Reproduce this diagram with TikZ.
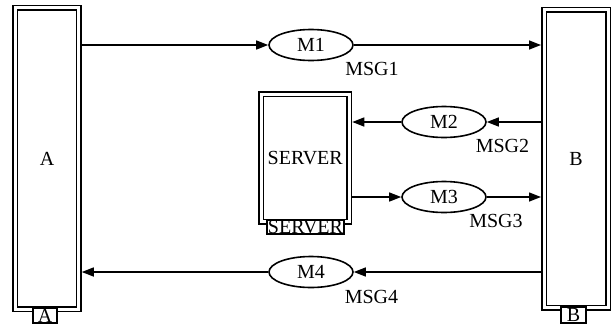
\documentclass[tikz,border=0pt]{standalone}
\usepackage{fontspec}
\setmainfont{Liberation Serif}
\usetikzlibrary{shapes.geometric,arrows.meta}
\begin{document}
\begin{tikzpicture}[x=1pt,y=-1pt,
  every node/.style={font=\fontsize{20}{22}\selectfont},
  lane/.style={draw=black, line width=1.5pt, double=white, double distance=3pt,
    rectangle, inner sep=0pt, outer sep=3pt},
  tag/.style={draw=black, fill=white, line width=1.3pt, inner sep=0pt},
  msg/.style={draw=black, ellipse, line width=1.6pt, minimum width=84pt,
    minimum height=31pt, inner sep=0pt, outer sep=0.8pt},
  note/.style={inner sep=0pt},
  flow/.style={line width=1.4pt, -{Triangle[length=12pt,width=9pt]}}]
\useasboundingbox (0,0) rectangle (615,327);

% participants with double borders
\node[lane, minimum width=63.5pt, minimum height=301.7pt] (A) at (47,158.4) {A};
\node[lane, minimum width=64pt, minimum height=298pt] (B) at (576,158.5) {B};
\node[lane, minimum width=88pt, minimum height=127.5pt] (S) at (305.25,158) {SERVER};

% name tags under the participants
\node[tag, minimum width=24pt, minimum height=15pt] (Atag) at (45,315.5) {A};
\node[tag, minimum width=25pt, minimum height=16pt] (Btag) at (573.5,315) {B};
\node[tag, minimum width=77pt, minimum height=14pt] (Stag) at (305.5,227) {SERVER};

% messages
\node[msg] (M1) at (311,45) {M1};
\node[msg] (M2) at (444,122) {M2};
\node[msg] (M3) at (444,197) {M3};
\node[msg] (M4) at (311,272) {M4};

% message flow
\draw[flow] (A.east |- M1.west) -- (M1.west);
\draw[flow] (M1.east) -- (M1.east -| B.west);
\draw[flow] (B.west |- M2.east) -- (M2.east);
\draw[flow] (M2.west) -- (M2.west -| S.east);
\draw[flow] (S.east |- M3.west) -- (M3.west);
\draw[flow] (M3.east) -- (M3.east -| B.west);
\draw[flow] (B.west |- M4.east) -- (M4.east);
\draw[flow] (M4.west) -- (M4.west -| A.east);

% message labels
\node[note] (L1) at (372,68.5) {MSG1};
\node[note] (L2) at (502.5,145.5) {MSG2};
\node[note] (L3) at (496,221) {MSG3};
\node[note] (L4) at (371.5,297) {MSG4};
\end{tikzpicture}
\end{document}
